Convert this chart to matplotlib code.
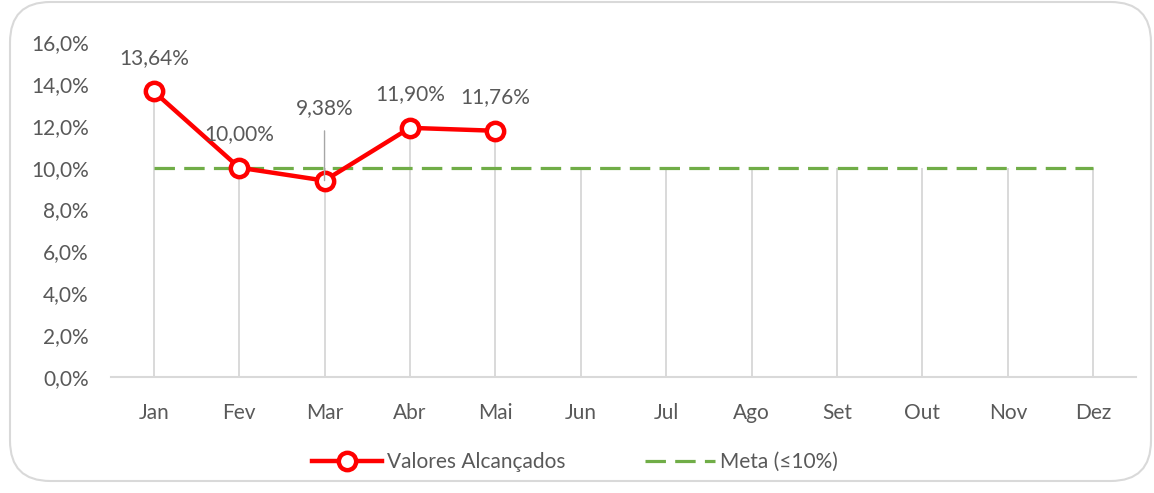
import matplotlib
matplotlib.use("Agg")
import matplotlib.pyplot as plt
from matplotlib.lines import Line2D
from matplotlib.patches import FancyBboxPatch
import numpy as np

months = ["Jan", "Fev", "Mar", "Abr", "Mai", "Jun", "Jul", "Ago", "Set", "Out", "Nov", "Dez"]
valores = [13.64, 10.00, 9.38, 11.90, 11.76]
meta = [10.0] * 12
yticks = [0, 2, 4, 6, 8, 10, 12, 14, 16]

plt.rcParams['font.family'] = ['Lato', 'DejaVu Sans']
TXT = "#595959"
FS = 15

W, H = 1154, 493
fig = plt.figure(figsize=(W / 100, H / 100), dpi=100)
ax = fig.add_axes([111 / W, 1 - 377 / H, (1136 - 111) / W, (377 - 42) / H])

x = np.arange(len(months))
xv = np.arange(len(valores))

# drop lines
tops = [max(meta[i], valores[i]) if i < len(valores) else meta[i] for i in range(len(months))]
ax.vlines(x, 0, tops, color="#d9d9d9", lw=1.4, zorder=1)

# meta line
ax.plot(x, meta, color="#70ad47", lw=2.3, dashes=(6.4, 2.9), zorder=2)

# series
ax.plot(xv, valores, color="#ff0000", lw=3.2, marker="o", ms=12.5,
        mfc="white", mec="#ff0000", mew=3.2, zorder=4)

for i, v in enumerate(valores):
    lab = f"{v:.2f}%".replace(".", ",")
    if i == 2:
        ax.annotate(lab, (i, v), xytext=(0, 52), textcoords="offset points",
                    ha="center", va="center", fontsize=FS, color=TXT, zorder=5,
                    arrowprops=dict(arrowstyle="-", color="#a6a6a6", lw=1.0,
                                    shrinkA=7, shrinkB=0, relpos=(0.5, 0)))
    else:
        ax.annotate(lab, (i, v), xytext=(0, 24), textcoords="offset points",
                    ha="center", va="center", fontsize=FS, color=TXT, zorder=5)

ax.set_xlim(-0.5, len(months) - 0.5)
ax.set_ylim(0, 16)
ax.set_xticks(x)
ax.set_xticklabels(months, fontsize=FS, color=TXT)
ax.set_yticks(yticks)
ax.set_yticklabels([f"{t:.1f}%".replace(".", ",") for t in yticks], fontsize=FS, color=TXT)
ax.tick_params(axis="both", length=0)
ax.tick_params(axis="x", pad=19)
ax.tick_params(axis="y", pad=16)
for s in ["top", "right", "left"]:
    ax.spines[s].set_visible(False)
ax.spines["bottom"].set_color("#d9d9d9")
ax.spines["bottom"].set_linewidth(1.5)
ax.patch.set_alpha(0)

handles = [
    Line2D([], [], color="#ff0000", lw=3.2, marker="o", ms=12.5, mfc="white", mec="#ff0000", mew=3.2),
    Line2D([], [], color="#70ad47", lw=2.3, dashes=(6.4, 2.9)),
]
fig.legend(handles, ["Valores Alcançados", "Meta (≤10%)"], loc="center",
           bbox_to_anchor=(575 / W, 1 - 462 / H), ncol=2, frameon=False,
           fontsize=FS, labelcolor=TXT, handlelength=3.35, handletextpad=0.24,
           columnspacing=3.85, numpoints=1)

border = FancyBboxPatch((10 / W, 12 / H), (1151 - 10) / W, (491 - 12) / H,
                        boxstyle="round,pad=0,rounding_size=0.035",
                        transform=fig.transFigure, fill=False, ec="#d9d9d9", lw=1.5,
                        mutation_aspect=W / H)
fig.patches.append(border)

fig.savefig("out.png", dpi=100)
